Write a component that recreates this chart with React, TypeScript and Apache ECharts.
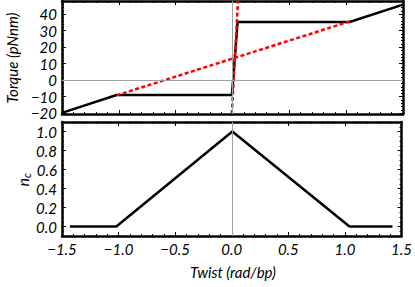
import React, { useEffect, useRef } from "react";
import * as echarts from "echarts";

// ---- data ----
const torqueX = [-1.5, -1.02, -0.005, 0.045, 1.03, 1.5];
const torqueY = [-19.8, -9, -9, 35.3, 35.3, 45.8];
const linearX = [-1.02, 1.03];
const linearY = [-9.2, 35.6];
const steepX = [-0.006, 0.048];
const steepY = [-20.5, 48];
const ncX = [-1.43, -1.02, 0.005, 1.04, 1.42];
const ncY = [0, 0, 1, 0, 0];

const xTicks = [-1.5, -1.0, -0.5, 0.0, 0.5, 1.0, 1.5];
const torqueTicks = [-20, -10, 0, 10, 20, 30, 40];
const ncTicks = [0.0, 0.2, 0.4, 0.6, 0.8, 1.0];

const X_RANGE = [-1.5, 1.5];
const TORQUE_RANGE = [-20.5, 48];
const NC_RANGE = [-0.1, 1.1];

const FONT = "Lato";
const FS = 15;

function minors(lo: number, hi: number, step: number) {
  const out: number[] = [];
  const start = Math.ceil(lo / step - 1e-9);
  for (let i = start; i * step <= hi + 1e-9; i++) out.push(+(i * step).toFixed(6));
  return out;
}

const fmt = (v: number, d: number) => {
  const s = Math.abs(v).toFixed(d);
  return v < -1e-9 ? "\u2212" + s : s;
};

function axis(
  dim: "x" | "y",
  grid: number,
  position: string,
  range: number[],
  ticks: number[],
  opts: { labels?: boolean; line?: boolean; len: number; dec?: number }
) {
  return {
    type: "value",
    gridIndex: grid,
    position,
    min: range[0],
    max: range[1],
    axisLine: {
      show: !!opts.line,
      onZero: false,
      lineStyle: { color: "#000", width: 2.5 },
    },
    axisTick: {
      show: true,
      inside: true,
      length: opts.len,
      customValues: ticks,
      lineStyle: { color: "#000", width: 1 },
    },
    axisLabel: opts.labels
      ? {
          show: true,
          customValues: ticks,
          formatter: (v: number) => fmt(v, opts.dec ?? 0),
          fontFamily: FONT,
          fontStyle: "italic",
          fontSize: FS,
          color: "#000",
          margin: 5,
        }
      : { show: false },
    splitLine: { show: false },
  };
}

export default function App() {
  const ref = useRef<HTMLDivElement>(null);
  useEffect(() => {
    if (!ref.current) return;
    const chart = echarts.init(ref.current, null, { renderer: "svg" });
    const xMinor = minors(X_RANGE[0], X_RANGE[1], 0.1);
    const tMinor = minors(TORQUE_RANGE[0], TORQUE_RANGE[1], 2);
    const nMinor = minors(NC_RANGE[0], NC_RANGE[1], 0.05);

    const xAxes: any[] = [];
    const yAxes: any[] = [];
    [0, 1].forEach((g) => {
      xAxes.push(axis("x", g, "bottom", X_RANGE, xTicks, { labels: g === 1, line: true, len: 4, dec: 1 }));
      xAxes.push(axis("x", g, "top", X_RANGE, xTicks, { line: true, len: 4 }));
      xAxes.push(axis("x", g, "bottom", X_RANGE, xMinor, { len: 2 }));
      xAxes.push(axis("x", g, "top", X_RANGE, xMinor, { len: 2 }));
      const yr = g === 0 ? TORQUE_RANGE : NC_RANGE;
      const yt = g === 0 ? torqueTicks : ncTicks;
      const ym = g === 0 ? tMinor : nMinor;
      yAxes.push(axis("y", g, "left", yr, yt, { labels: true, line: true, len: 4, dec: g === 0 ? 0 : 1 }));
      yAxes.push(axis("y", g, "right", yr, yt, { line: true, len: 4 }));
      yAxes.push(axis("y", g, "left", yr, ym, { len: 2 }));
      yAxes.push(axis("y", g, "right", yr, ym, { len: 2 }));
    });

    const zip = (xs: number[], ys: number[]) => xs.map((x, i) => [x, ys[i]]);
    const gray = { color: "#a0a0a0", width: 1, type: "solid" };

    chart.setOption({
      animation: false,
      backgroundColor: "#fff",
      grid: [
        { left: 62, right: 12, top: 1, height: 113 },
        { left: 62, right: 12, top: 122, height: 114 },
      ],
      xAxis: xAxes,
      yAxis: yAxes,
      series: [
        {
          type: "line",
          xAxisIndex: 0,
          yAxisIndex: 0,
          data: [],
          silent: true,
          z: 1,
          markLine: {
            silent: true,
            symbol: "none",
            label: { show: false },
            lineStyle: gray,
            data: [{ yAxis: 0 }, { xAxis: 0 }],
          },
        },
        {
          type: "line",
          xAxisIndex: 4,
          yAxisIndex: 4,
          data: [],
          silent: true,
          z: 1,
          markLine: {
            silent: true,
            symbol: "none",
            label: { show: false },
            lineStyle: gray,
            data: [{ xAxis: 0 }],
          },
        },
        {
          type: "line",
          xAxisIndex: 0,
          yAxisIndex: 0,
          data: zip(torqueX, torqueY),
          showSymbol: false,
          lineStyle: { color: "#000", width: 2.5 },
          z: 3,
        },
        {
          type: "line",
          xAxisIndex: 0,
          yAxisIndex: 0,
          data: zip(linearX, linearY),
          showSymbol: false,
          lineStyle: { color: "#ff0000", width: 2.5, type: [4, 2.5] },
          z: 4,
        },
        {
          type: "line",
          xAxisIndex: 0,
          yAxisIndex: 0,
          data: zip(steepX, steepY),
          showSymbol: false,
          clip: true,
          lineStyle: { color: "#ff0000", width: 2.5, type: [4, 2.5] },
          z: 4,
        },
        {
          type: "line",
          xAxisIndex: 4,
          yAxisIndex: 4,
          data: zip(ncX, ncY),
          showSymbol: false,
          lineStyle: { color: "#000", width: 2.5 },
          z: 3,
        },
      ],
      graphic: [
        {
          type: "text",
          x: 12,
          y: 58,
          rotation: Math.PI / 2,
          style: {
            text: "Torque (pNnm)",
            fontFamily: FONT,
            fontStyle: "italic",
            fontSize: FS,
            fill: "#000",
            align: "center",
            verticalAlign: "middle",
          },
        },
        {
          type: "group",
          x: 22,
          y: 178,
          rotation: Math.PI / 2,
          children: [
            {
              type: "text",
              x: 0,
              y: 0,
              style: {
                text: "n",
                fontFamily: FONT,
                fontStyle: "italic",
                fontSize: 16,
                fill: "#000",
                align: "right",
                verticalAlign: "middle",
              },
            },
            {
              type: "text",
              x: 0,
              y: 4,
              style: {
                text: "c",
                fontFamily: FONT,
                fontStyle: "italic",
                fontSize: 11,
                fill: "#000",
                align: "left",
                verticalAlign: "middle",
              },
            },
          ],
        },
        {
          type: "text",
          x: 233,
          y: 272,
          style: {
            text: "Twist (rad/bp)",
            fontFamily: FONT,
            fontStyle: "italic",
            fontSize: FS,
            fill: "#000",
            align: "center",
            verticalAlign: "middle",
          },
        },
      ],
    });
    return () => chart.dispose();
  }, []);
  return (
    <div
      ref={ref}
      style={{ position: "fixed", left: 0, top: 0, width: 415, height: 287 }}
    />
  );
}
